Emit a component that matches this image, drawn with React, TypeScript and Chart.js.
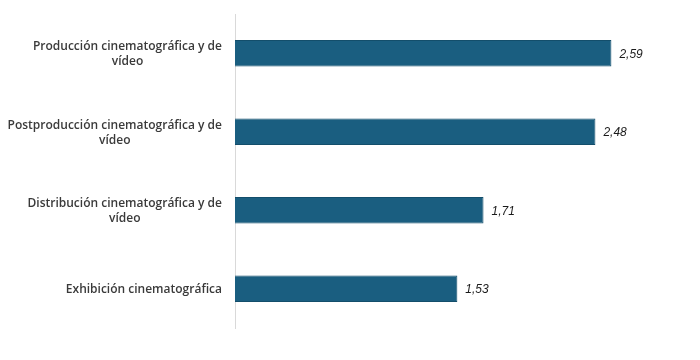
import React, { useEffect, useRef } from "react";
import { Chart, registerables } from "chart.js";

Chart.register(...registerables);

const categories: string[][] = [
  ["Producción cinematográfica y de", "vídeo"],
  ["Postproducción cinematográfica y de", "vídeo"],
  ["Distribución cinematográfica y de", "vídeo"],
  ["Exhibición cinematográfica"],
];
const values: number[] = [2.59, 2.48, 1.71, 1.53];
const valueLabels: string[] = ["2,59", "2,48", "1,71", "1,53"];

const labelPlugin = {
  id: "customLabels",
  afterDatasetsDraw(chart: any) {
    const ctx = chart.ctx;
    const yScale = chart.scales.y;
    const area = chart.chartArea;
    ctx.save();
    ctx.font = "600 12px 'Open Sans'";
    ctx.fillStyle = "#3a3a3a";
    ctx.textAlign = "center";
    ctx.textBaseline = "middle";
    const rightEdge = area.left - 13;
    const lineH = 15;
    categories.forEach((lines, i) => {
      const yc = yScale.getPixelForTick(i) + 1;
      const maxW = Math.max(...lines.map((l) => ctx.measureText(l).width));
      const cx = rightEdge - maxW / 2;
      const startY = yc - ((lines.length - 1) * lineH) / 2;
      lines.forEach((l, j) => ctx.fillText(l, cx, startY + j * lineH));
    });
    const meta = chart.getDatasetMeta(0);
    ctx.font = "italic 12px 'Liberation Sans'";
    ctx.fillStyle = "#1a1a1a";
    ctx.textAlign = "left";
    meta.data.forEach((bar: any, i: number) => {
      ctx.fillText(valueLabels[i], bar.x + 8, bar.y + 1);
    });
    ctx.restore();
  },
};

export default function App() {
  const ref = useRef<HTMLCanvasElement>(null);
  useEffect(() => {
    if (!ref.current) return;
    const chart = new Chart(ref.current, {
      type: "bar",
      data: {
        labels: categories.map((c) => c.join(" ")),
        datasets: [
          {
            data: values,
            backgroundColor: "#1A5E80",
            borderColor: "#134E6B",
            borderWidth: 1,
            categoryPercentage: 1,
            barPercentage: 0.34,
          },
        ],
      },
      options: {
        indexAxis: "y",
        animation: false,
        responsive: true,
        maintainAspectRatio: false,
        layout: { padding: { left: 219, top: 6, bottom: 24, right: 21 } },
        plugins: { legend: { display: false }, tooltip: { enabled: false } },
        scales: {
          x: {
            min: 0,
            max: 3,
            display: false,
          },
          y: {
            grid: { display: false },
            ticks: { display: false },
            border: { display: true, color: "#D9D9D9", width: 1 },
          },
        },
      },
      plugins: [labelPlugin],
    });
    return () => chart.destroy();
  }, []);
  return (
    <div style={{ width: 684, height: 344 }}>
      <canvas ref={ref} />
    </div>
  );
}
